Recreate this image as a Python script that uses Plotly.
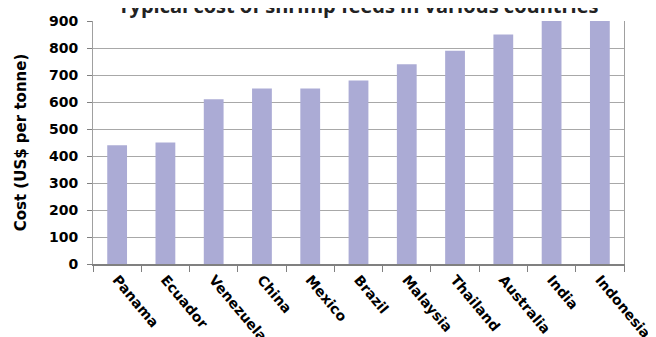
import plotly.graph_objects as go

countries = ["Panama", "Ecuador", "Venezuela", "China", "Mexico", "Brazil",
             "Malaysia", "Thailand", "Australia", "India", "Indonesia"]
cost = [440, 450, 610, 650, 650, 680, 740, 790, 850, 900, 900]
y_ticks = [0, 100, 200, 300, 400, 500, 600, 700, 800, 900]
title_text = "Typical cost of shrimp feeds in various countries"

font_family = "DejaVu Sans, sans-serif"

fig = go.Figure(go.Bar(x=countries, y=cost, marker=dict(color="#ababd5", line=dict(width=0)),
                       width=0.41))

# the page body has an 8px margin, so the figure is offset by 8px
fig.update_layout(
    width=656, height=337,
    margin=dict(l=85, r=40, t=13, b=81, autoexpand=False),
    paper_bgcolor="white", plot_bgcolor="white",
    font=dict(family=font_family, color="black"),
    showlegend=False,
    annotations=[dict(text=title_text, xref="paper", yref="paper", x=0.5, y=1,
                      xanchor="center", yanchor="middle", yshift=16, showarrow=False,
                      font=dict(size=20, weight="bold", family="Open Sans, sans-serif",
                                color="#222222"))],
)
fig.update_xaxes(
    automargin=False,
    showline=True, linecolor="#808080", linewidth=2,
    ticks="outside", tickson="boundaries", ticklen=6, tickcolor="#808080", tickwidth=1,
    tickangle=50, tickfont=dict(size=14, weight="bold", family=font_family),
    showgrid=False,
)
fig.update_yaxes(
    automargin=False,
    range=[0, 900], tickvals=y_ticks,
    showline=True, linecolor="#a0a0a0", linewidth=1, mirror=True,
    ticks="outside", ticklen=5, tickcolor="#808080",
    ticklabelstandoff=6,
    showgrid=True, gridcolor="#a8a8a8", gridwidth=1,
    tickfont=dict(size=14, weight="bold", family=font_family),
    title=dict(text="Cost (US$ per tonne)", standoff=18,
               font=dict(size=15, weight="bold", family=font_family)),
    zeroline=False,
)

fig.write_html("out.html")
